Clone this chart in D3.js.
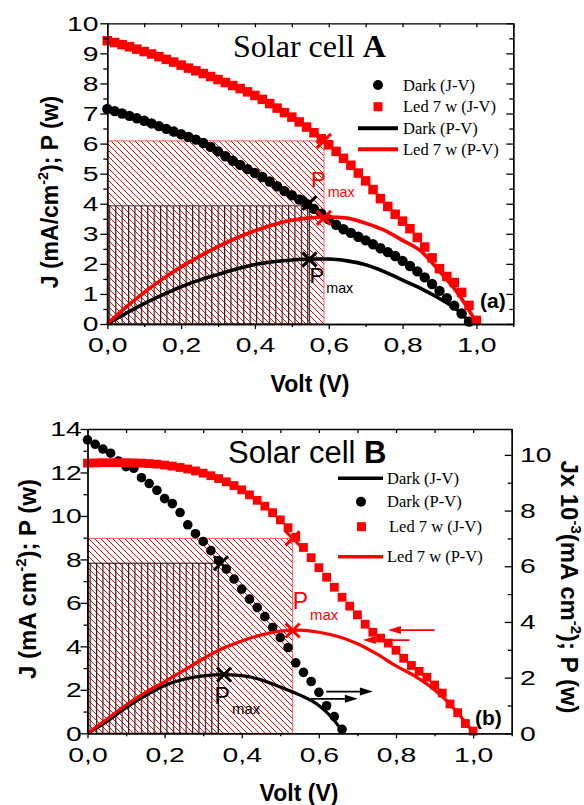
<html>
<head>
<title>Solar cell A / B</title>
<script src="https://d3js.org/d3.v7.min.js"></script>
<style>
  body { margin: 0; background: #fff; }
  text { font-family: "Liberation Sans", Arial, sans-serif; fill: #000; }
  .serif { font-family: "Liberation Serif", "Times New Roman", serif; }
  .axis path, .axis line { stroke: #000; stroke-width: 1.3px; }
  .axis text { font-size: 21px; }
</style>
</head>
<body>
<svg id="chart" width="584" height="805"></svg>
<script>

// ---- data ----
// J-V sweeps, 0.02 V steps
const voltJV = [0.00,0.02,0.04,0.06,0.08,0.10,0.12,0.14,0.16,0.18,0.20,0.22,0.24,0.26,0.28,0.30,0.32,0.34,0.36,0.38,0.40,0.42,0.44,0.46,0.48,0.50,0.52,0.54,0.56,0.58,0.60,0.62,0.64,0.66,0.68,0.70,0.72,0.74,0.76,0.78,0.80,0.82,0.84,0.86,0.88,0.90,0.92,0.94,0.96,0.98,1.00];

// cell A
const ledJV_A  = [9.42,9.36,9.29,9.22,9.14,9.06,8.98,8.89,8.80,8.71,8.61,8.51,8.42,8.33,8.23,8.13,8.03,7.93,7.83,7.72,7.60,7.47,7.33,7.18,7.03,6.88,6.72,6.55,6.36,6.16,5.96,5.74,5.51,5.28,5.02,4.76,4.47,4.17,3.91,3.65,3.42,3.17,2.88,2.56,2.20,1.84,1.58,1.38,1.05,0.62,0.12];
const darkJV_A = [7.15,7.08,7.00,6.92,6.84,6.76,6.67,6.58,6.49,6.40,6.31,6.22,6.13,6.02,5.89,5.74,5.58,5.43,5.29,5.15,5.02,4.89,4.74,4.58,4.42,4.28,4.14,3.99,3.83,3.67,3.48,3.30,3.15,3.03,2.90,2.78,2.65,2.52,2.39,2.26,2.10,1.93,1.75,1.55,1.33,1.10,0.86,0.61,0.35,0.08];
const voltPV_A    = [0,0.05,0.10,0.15,0.20,0.25,0.30,0.35,0.40,0.45,0.50,0.55,0.60,0.65,0.70,0.75,0.80,0.85,0.90,0.95,1.00];
const ledPV_A     = [0,0.55,1.05,1.50,1.90,2.25,2.57,2.86,3.10,3.30,3.45,3.53,3.56,3.52,3.35,3.12,2.78,2.42,1.75,1.02,0.05];
const voltDarkPV_A = [0,0.05,0.10,0.15,0.20,0.25,0.30,0.35,0.40,0.45,0.50,0.55,0.60,0.65,0.70,0.75,0.80,0.85,0.90,0.95,0.985];
const darkPV_A    = [0,0.35,0.68,0.97,1.24,1.46,1.65,1.83,1.98,2.07,2.13,2.16,2.16,2.10,1.97,1.74,1.46,1.18,0.85,0.45,0.02];
// maximum power points: [V, J, P]
const pmaxLed_A  = [0.587, 6.09, 3.53];
const pmaxDark_A = [0.548, 3.93, 2.15];

// cell B (red on the left axis, black on the right axis)
const ledJV_B   = [12.43,12.44,12.45,12.45,12.45,12.45,12.44,12.43,12.41,12.38,12.34,12.29,12.23,12.16,12.07,11.97,11.85,11.72,11.57,11.40,11.20,10.97,10.72,10.45,10.15,9.82,9.46,9.02,8.55,8.08,7.62,7.18,6.72,6.26,5.85,5.45,5.02,4.65,4.38,4.15,3.82,3.45,3.12,2.85,2.58,2.22,1.85,1.35,0.95,0.45,0.10];
const darkDots_B = [10.54,10.38,10.21,10.06,9.78,9.58,9.52,9.18,8.97,8.73,8.43,8.25,7.93,7.49,7.17,6.89,6.56,6.20,5.90,5.54,5.18,4.82,4.52,4.19,3.80,3.44,3.08,2.53,2.19,1.86,1.47,0.99,0.60,0.14];
const voltPV_B  = [0,0.05,0.10,0.15,0.20,0.25,0.30,0.35,0.40,0.45,0.50,0.55,0.60,0.65,0.70,0.75,0.80,0.85,0.90,0.95,1.00];
const ledPV_B   = [0,0.65,1.30,1.87,2.38,2.90,3.43,3.90,4.25,4.52,4.70,4.75,4.65,4.45,4.12,3.65,3.10,2.62,2.00,1.15,0.05];
const voltDarkLine_B = [0,0.05,0.10,0.15,0.20,0.25,0.30,0.35,0.40,0.45,0.50,0.55,0.60,0.63,0.665];
const darkLine_B     = [0,0.42,0.92,1.35,1.72,1.94,2.06,2.11,2.07,1.92,1.66,1.38,1.00,0.62,0];
const pmaxLed_B  = [0.532, 8.97, 4.73];   // left units
const pmaxDark_B = [0.340, 6.11, 2.11];   // right units

// arrows [V from, V to, value]
const arrowsRed_B   = [[0.900, 0.779, 4.75], [0.835, 0.714, 4.29]];
const arrowsBlack_B = [[0.619, 0.740, 1.50], [0.579, 0.701, 1.24]];

// ticks
const xTicks = [0, 0.2, 0.4, 0.6, 0.8, 1.0];
const xTickLabels = ["0,0", "0,2", "0,4", "0,6", "0,8", "1,0"];
const xMinor = [0.1, 0.3, 0.5, 0.7, 0.9, 1.1];
const xAll = [0,0.1,0.2,0.3,0.4,0.5,0.6,0.7,0.8,0.9,1.0,1.1];
const yTicksA = [0,1,2,3,4,5,6,7,8,9,10];
const yMinorA = [0.5,1.5,2.5,3.5,4.5,5.5,6.5,7.5,8.5,9.5];
const yTicksB = [0,2,4,6,8,10,12,14];
const yMinorB = [1,3,5,7,9,11,13];
const yTicksBR = [0,2,4,6,8,10];
const yMinorBR = [1,3,5,7,9];

const legendA = ["Dark (J-V)", "Led 7 w (J-V)", "Dark (P-V)", "Led 7 w (P-V)"];
const legendB = ["Dark (J-V)", "Dark (P-V)", "Led 7 w (J-V)", "Led 7 w (P-V)"];

const RED = "#ff0000";

const svg = d3.select("svg#chart");
const defs = svg.append("defs");

defs.append("pattern").attr("id", "hatchRed")
    .attr("patternUnits", "userSpaceOnUse").attr("width", 6).attr("height", 6)
  .append("path").attr("d", "M0,0L6,6M-1,5L1,7M5,-1L7,1")
    .attr("stroke", RED).attr("stroke-width", 1);

defs.append("pattern").attr("id", "hatchBlack")
    .attr("patternUnits", "userSpaceOnUse").attr("width", 6.4).attr("height", 10)
  .append("line").attr("x1", 0.6).attr("x2", 0.6).attr("y1", 0).attr("y2", 10)
    .attr("stroke", "#222").attr("stroke-width", 1.2);

function zip(xs, ys) { return ys.map((y, i) => [xs[i], y]); }

function hatchRect(g, x, y, v, j, fill, stroke) {
  g.append("rect")
    .attr("x", x(0)).attr("y", y(j))
    .attr("width", x(v) - x(0)).attr("height", y(0) - y(j))
    .attr("fill", fill).attr("stroke", stroke).attr("stroke-width", 1);
}

function curve(g, pts, x, y, color, w) {
  g.append("path").datum(pts)
    .attr("fill", "none").attr("stroke", color).attr("stroke-width", w)
    .attr("stroke-linejoin", "round")
    .attr("d", d3.line().x(d => x(d[0])).y(d => y(d[1])).curve(d3.curveMonotoneX));
}

function dots(g, pts, x, y, r) {
  g.selectAll(null).data(pts).join("circle")
    .attr("cx", d => x(d[0])).attr("cy", d => y(d[1])).attr("r", r).attr("fill", "#000");
}

function squares(g, pts, x, y, s) {
  g.selectAll(null).data(pts).join("rect")
    .attr("x", d => x(d[0]) - s / 2).attr("y", d => y(d[1]) - s / 2)
    .attr("width", s).attr("height", s).attr("fill", RED);
}

function cross(g, cx, cy, color, s) {
  g.append("path")
    .attr("d", `M${cx - s},${cy - s}L${cx + s},${cy + s}M${cx - s},${cy + s}L${cx + s},${cy - s}`)
    .attr("stroke", color).attr("stroke-width", 3).attr("fill", "none");
}

function pmaxLabel(g, px, py, color, big) {
  const t = g.append("text").attr("x", px).attr("y", py)
    .style("fill", color).style("font-size", big + "px");
  t.append("tspan").text("P");
  t.append("tspan").attr("dy", big * 0.45).attr("dx", 2).style("font-size", (big * 0.65) + "px").text("max");
}

// text with superscripts: parts = [[text, isSup], ...]
function rich(t, parts, size) {
  let up = false;
  parts.forEach(p => {
    const s = t.append("tspan").text(p[0]);
    if (p[1] && !up) { s.attr("dy", -size * 0.42).style("font-size", (size * 0.62) + "px"); up = true; }
    else if (p[1]) { s.style("font-size", (size * 0.62) + "px"); }
    else if (up) { s.attr("dy", size * 0.42); up = false; }
  });
}

function arrow(g, x1, x2, y, color) {
  const dir = x2 > x1 ? 1 : -1;
  const hl = 13;
  g.append("line").attr("x1", x1).attr("x2", x2 - dir * hl).attr("y1", y).attr("y2", y)
    .attr("stroke", color).attr("stroke-width", 1.8);
  g.append("path").attr("d", `M${x2},${y}L${x2 - dir * hl},${y - 4}L${x2 - dir * hl},${y + 4}Z`)
    .attr("fill", color);
}

function frameAxes(g, x, y, yTicks, yMinor, leftLabelX, xLabelY) {
  const x0 = x.range()[0];
  const yb = y.range()[0], yt = y.range()[1];

  // bottom
  g.append("g").attr("class", "axis").attr("transform", `translate(0,${yb})`)
    .call(d3.axisBottom(x).tickValues(xMinor).tickSize(3).tickSizeOuter(0).tickFormat(""));
  const bx = g.append("g").attr("class", "axis").attr("transform", `translate(0,${yb})`)
    .call(d3.axisBottom(x).tickValues(xTicks).tickSize(5).tickSizeOuter(0).tickFormat((d, i) => xTickLabels[i]));
  bx.selectAll("text").attr("y", xLabelY).attr("transform", "scale(1.35,1)");

  // left
  g.append("g").attr("class", "axis").attr("transform", `translate(${x0},0)`)
    .call(d3.axisLeft(y).tickValues(yMinor).tickSize(4).tickSizeOuter(0).tickFormat(""));
  const ly = g.append("g").attr("class", "axis").attr("transform", `translate(${x0},0)`)
    .call(d3.axisLeft(y).tickValues(yTicks).tickSize(7).tickSizeOuter(0));
  ly.selectAll("text").attr("x", leftLabelX).attr("transform", "scale(1.35,1)");

  // top (ticks inward)
  g.append("g").attr("class", "axis").attr("transform", `translate(0,${yt})`)
    .call(d3.axisTop(x).tickValues(xAll).tickSize(-4).tickSizeOuter(0).tickFormat(""));
}

// ================= panel A =================
const gA = svg.append("g").attr("id", "panelA");
const xA = d3.scaleLinear().domain([0, 1.1]).range([107.3, 513.3]);
const yA = d3.scaleLinear().domain([0, 10]).range([324, 23.3]);

hatchRect(gA, xA, yA, pmaxLed_A[0], pmaxLed_A[1], "url(#hatchRed)", "#ff5a5a");
hatchRect(gA, xA, yA, pmaxDark_A[0], pmaxDark_A[1], "url(#hatchBlack)", "#333");

dots(gA, zip(voltJV, darkJV_A), xA, yA, 5.2);
squares(gA, zip(voltJV, ledJV_A), xA, yA, 9.5);
curve(gA, zip(voltDarkPV_A, darkPV_A), xA, yA, "#000", 3.6);
curve(gA, zip(voltPV_A, ledPV_A), xA, yA, RED, 3.6);

cross(gA, xA(pmaxLed_A[0]), yA(pmaxLed_A[1]), RED, 7);
cross(gA, xA(pmaxLed_A[0]), yA(pmaxLed_A[2]), RED, 7);
cross(gA, xA(pmaxDark_A[0]), yA(pmaxDark_A[1] + 0.1), "#000", 7);
cross(gA, xA(pmaxDark_A[0]), yA(pmaxDark_A[2]), "#000", 7);
pmaxLabel(gA, xA(pmaxLed_A[0]) - 13, yA(pmaxLed_A[1]) + 46, RED, 22);
pmaxLabel(gA, xA(pmaxDark_A[0]), yA(pmaxDark_A[2]) + 24, "#000", 22);

frameAxes(gA, xA, yA, yTicksA, yMinorA, -6.5, 12.8);
// right frame, ticks inward, no labels
gA.append("g").attr("class", "axis").attr("transform", `translate(${xA.range()[1]},0)`)
  .call(d3.axisRight(yA).tickValues(yMinorA).tickSize(-4).tickSizeOuter(0).tickFormat(""));
gA.append("g").attr("class", "axis").attr("transform", `translate(${xA.range()[1]},0)`)
  .call(d3.axisRight(yA).tickValues(yTicksA).tickSize(-7).tickSizeOuter(0).tickFormat(""));

// title
const tA = gA.append("text").attr("class", "serif").attr("x", 233).attr("y", 57).style("font-size", "32px");
tA.append("tspan").text("Solar cell ");
tA.append("tspan").style("font-weight", "bold").text("A");

// legend A
const legA = gA.append("g").attr("class", "legend");
const legAy = [85, 106.7, 128.3, 149.3];
legA.append("circle").attr("cx", 378).attr("cy", legAy[0]).attr("r", 5).attr("fill", "#000");
legA.append("rect").attr("x", 373.5).attr("y", legAy[1] - 4.5).attr("width", 9).attr("height", 9).attr("fill", RED);
legA.append("line").attr("x1", 358).attr("x2", 398).attr("y1", legAy[2]).attr("y2", legAy[2]).attr("stroke", "#000").attr("stroke-width", 4);
legA.append("line").attr("x1", 358).attr("x2", 398).attr("y1", legAy[3]).attr("y2", legAy[3]).attr("stroke", RED).attr("stroke-width", 4);
legA.selectAll("text").data(legendA).join("text").attr("class", "serif")
  .attr("x", 403).attr("y", (d, i) => legAy[i]).attr("dy", "0.35em")
  .style("font-size", "16.5px").text(d => d);

// axis titles
const yTitleA = gA.append("text").attr("text-anchor", "middle")
  .attr("transform", "translate(58,192) rotate(-90)")
  .style("font-size", "23px").style("font-weight", "bold");
rich(yTitleA, [["J (mA/cm", false], ["-2", true], ["); P (w)", false]], 23);
gA.append("text").attr("x", 310).attr("y", 392).attr("text-anchor", "middle")
  .style("font-size", "23px").style("font-weight", "bold").text("Volt (V)");
gA.append("text").attr("x", 480).attr("y", 308)
  .style("font-size", "21px").style("font-weight", "bold").text("(a)");

// ================= panel B =================
const gB = svg.append("g").attr("id", "panelB");
const xB = d3.scaleLinear().domain([0, 1.1]).range([87.5, 511.7]);
const yBL = d3.scaleLinear().domain([0, 14]).range([733.3, 429]);
const yBR = d3.scaleLinear().domain([0, 10.93]).range([733.3, 429]);

hatchRect(gB, xB, yBL, pmaxLed_B[0], pmaxLed_B[1], "url(#hatchRed)", "#ff5a5a");
hatchRect(gB, xB, yBR, pmaxDark_B[0], pmaxDark_B[1], "url(#hatchBlack)", "#111");

dots(gB, zip(voltJV, darkDots_B), xB, yBR, 4.8);
squares(gB, zip(voltJV, ledJV_B), xB, yBL, 8.8);
curve(gB, zip(voltDarkLine_B, darkLine_B), xB, yBR, "#000", 3.2);
curve(gB, zip(voltPV_B, ledPV_B), xB, yBL, RED, 3.2);

cross(gB, xB(pmaxLed_B[0]), yBL(pmaxLed_B[1]), RED, 7);
cross(gB, xB(pmaxLed_B[0]), yBL(pmaxLed_B[2]), RED, 7);
cross(gB, xB(pmaxDark_B[0] + 0.006), yBR(pmaxDark_B[1]), "#000", 7);
cross(gB, xB(pmaxDark_B[0] + 0.014), yBR(pmaxDark_B[2]), "#000", 7);
pmaxLabel(gB, xB(pmaxLed_B[0]), yBL(pmaxLed_B[2]) - 21, RED, 23);
pmaxLabel(gB, xB(pmaxDark_B[0]) - 4, yBR(pmaxDark_B[2]) + 29, "#000", 23);

arrowsRed_B.forEach(a => arrow(gB, xB(a[0]), xB(a[1]), yBL(a[2]), RED));
arrowsBlack_B.forEach(a => arrow(gB, xB(a[0]), xB(a[1]), yBR(a[2]), "#000"));

frameAxes(gB, xB, yBL, yTicksB, yMinorB, -4.3, 14.1);
// right axis with labels, ticks inward
gB.append("g").attr("class", "axis").attr("transform", `translate(${xB.range()[1]},0)`)
  .call(d3.axisRight(yBR).tickValues(yMinorBR).tickSize(-4).tickSizeOuter(0).tickFormat(""));
const ry = gB.append("g").attr("class", "axis").attr("transform", `translate(${xB.range()[1]},0)`)
  .call(d3.axisRight(yBR).tickValues(yTicksBR).tickSize(-7).tickSizeOuter(0));
ry.selectAll("text").attr("x", 6.2).attr("transform", "scale(1.35,1)");

const tB = gB.append("text").attr("x", 228).attr("y", 463).style("font-size", "31px");
tB.append("tspan").text("Solar cell ");
tB.append("tspan").style("font-weight", "bold").text("B");

// legend B
const legB = gB.append("g").attr("class", "legend");
const legBy = [478.3, 501.7, 526.7, 556.7];
legB.append("line").attr("x1", 338).attr("x2", 383).attr("y1", legBy[0]).attr("y2", legBy[0]).attr("stroke", "#000").attr("stroke-width", 3.5);
legB.append("circle").attr("cx", 361).attr("cy", legBy[1]).attr("r", 5).attr("fill", "#000");
legB.append("rect").attr("x", 357).attr("y", legBy[2] - 4.5).attr("width", 9).attr("height", 9).attr("fill", RED);
legB.append("line").attr("x1", 338).attr("x2", 383).attr("y1", legBy[3]).attr("y2", legBy[3]).attr("stroke", RED).attr("stroke-width", 3.5);
legB.selectAll("text").data(legendB).join("text").attr("class", "serif")
  .attr("x", (d, i) => i === 2 ? 389 : 387).attr("y", (d, i) => legBy[i]).attr("dy", "0.35em")
  .style("font-size", "16.5px").text(d => d);

const yTitleB = gB.append("text").attr("text-anchor", "middle")
  .attr("transform", "translate(36,579) rotate(-90)")
  .style("font-size", "24px").style("font-weight", "bold");
rich(yTitleB, [["J (mA cm", false], ["-2", true], ["); P (w)", false]], 24);

const yTitleBR = gB.append("text").attr("text-anchor", "middle")
  .attr("transform", "translate(561,587) rotate(90)")
  .style("font-size", "24px").style("font-weight", "bold");
rich(yTitleBR, [["Jx 10", false], ["-3", true], ["(mA cm", false], ["-2", true], ["); P (w)", false]], 24);

gB.append("text").attr("x", 299).attr("y", 801).attr("text-anchor", "middle")
  .style("font-size", "23px").style("font-weight", "bold").text("Volt (V)");
gB.append("text").attr("x", 475).attr("y", 725)
  .style("font-size", "21px").style("font-weight", "bold").text("(b)");

</script>
</body>
</html>
